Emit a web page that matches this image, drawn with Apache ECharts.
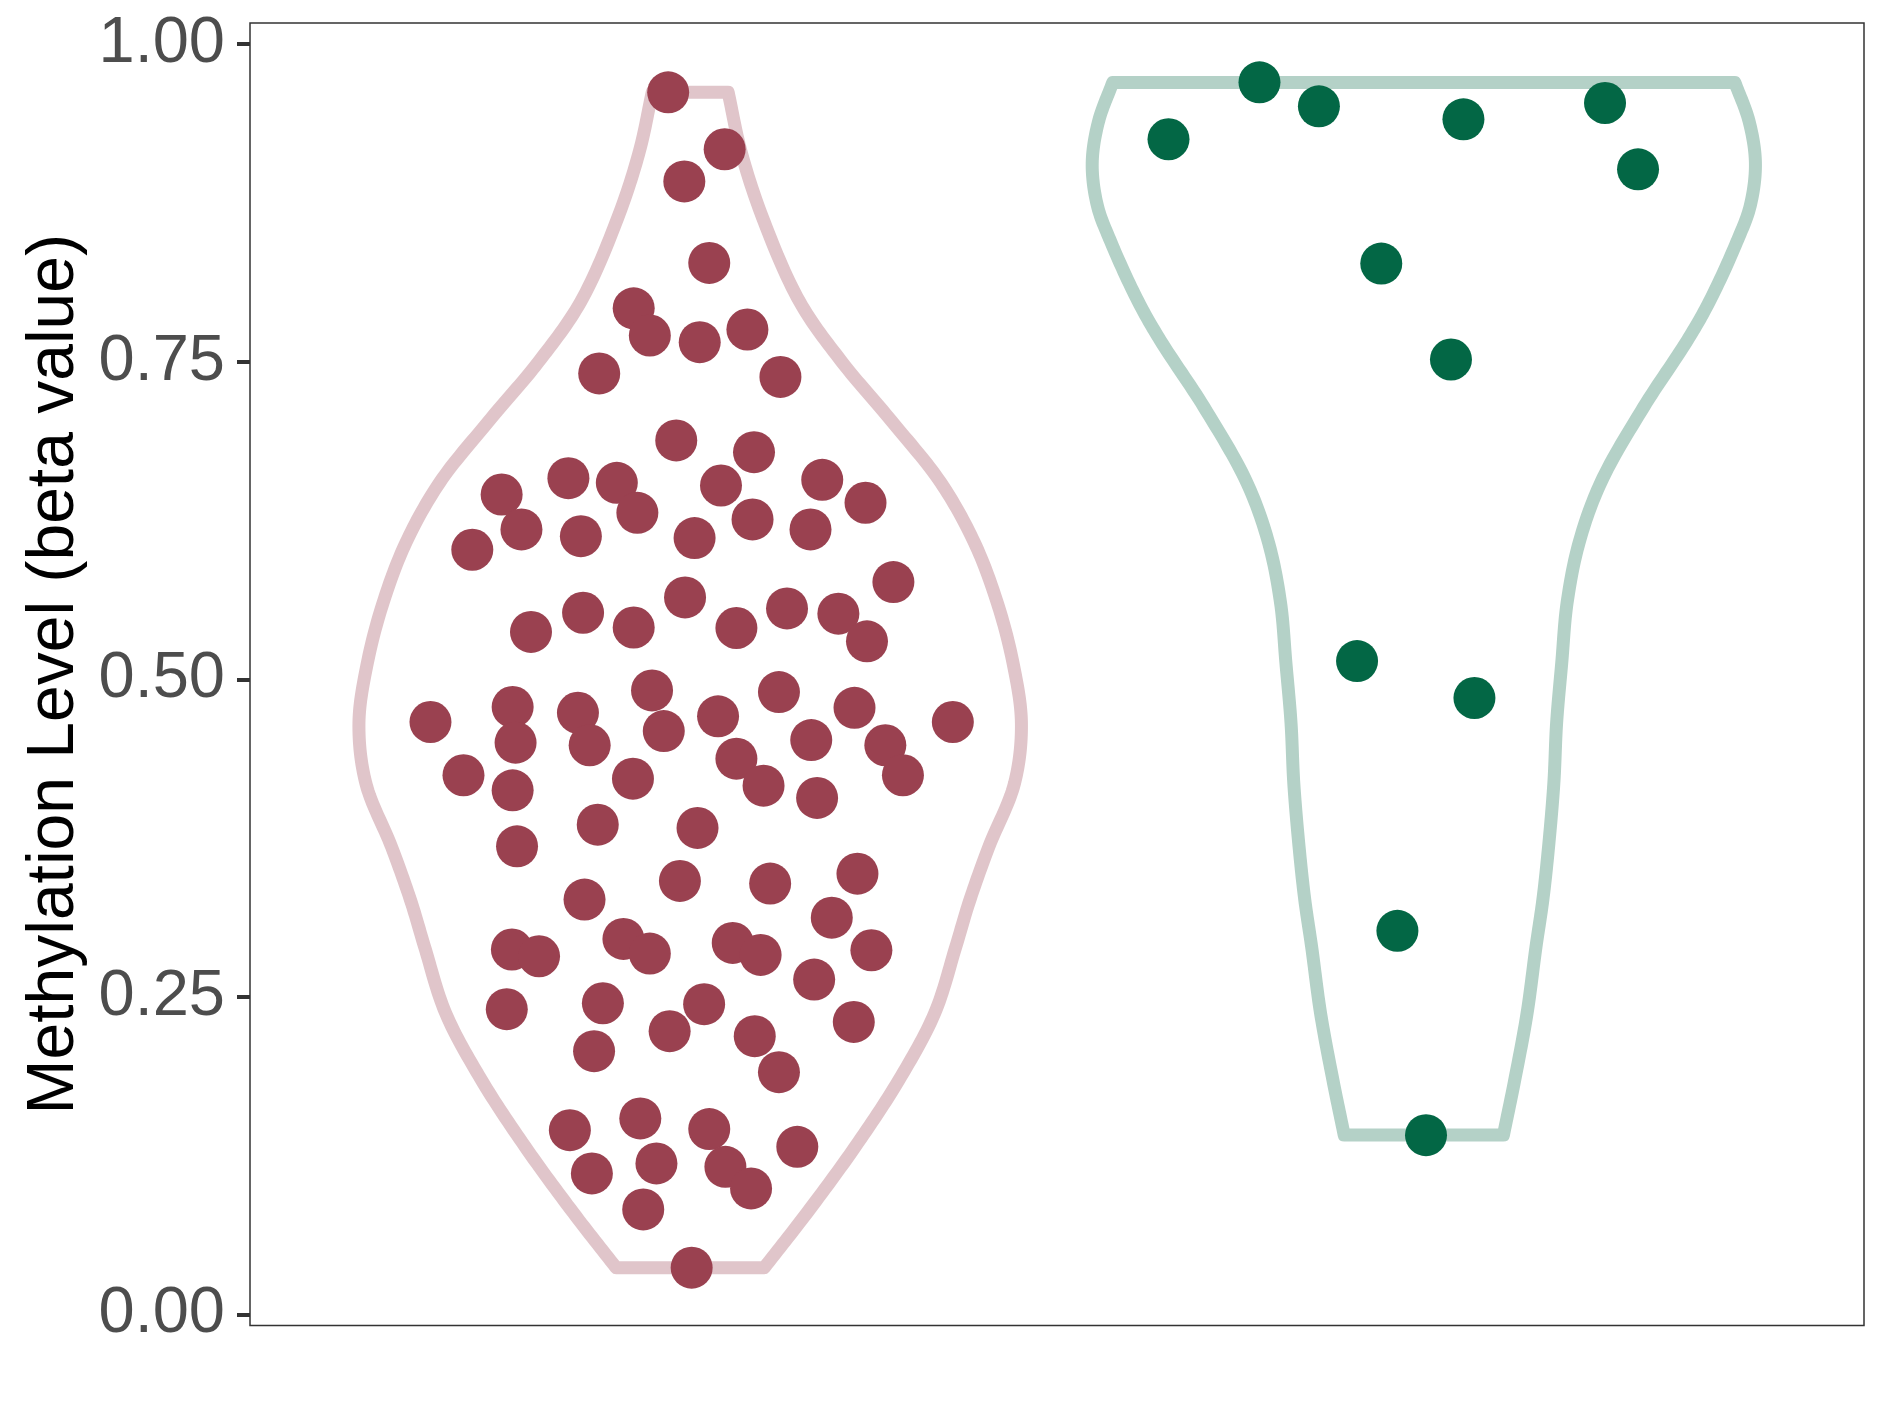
<!DOCTYPE html>
<html><head><meta charset="utf-8">
<script src="https://cdn.jsdelivr.net/npm/echarts@6/dist/echarts.min.js"></script>
<style>html,body{margin:0;padding:0;background:#fff}#chart{width:1889px;height:1417px}</style>
</head><body><div id="chart"></div>
<script>
// ---- data ----
const categories = ['Group 1', 'Group 2'];
const groupCenters = [1, 2];
const yTicks = [0, 0.25, 0.5, 0.75, 1];
const yTitle = 'Methylation Level (beta value)';

// group 1 jittered points
const g1X = [0.970,1.047,0.992,1.026,0.923,0.945,1.013,1.078,0.876,1.123,
  0.981,1.087,0.834,0.900,0.743,1.042,1.180,0.928,0.770,0.851,
  1.085,1.164,1.239,0.703,1.006,1.277,0.993,0.854,1.132,1.202,
  0.783,0.923,1.063,1.241,0.948,1.121,0.646,0.758,0.847,1.038,
  1.224,1.358,0.762,0.863,0.964,1.165,1.266,0.691,0.922,1.063,
  1.100,1.290,0.758,1.173,0.874,1.010,0.764,1.228,0.986,1.109,
  0.856,1.193,0.909,1.058,0.757,0.794,0.945,1.096,1.247,1.169,
  0.750,0.881,1.019,1.223,0.972,1.088,0.869,1.121,0.836,0.932,
  1.026,1.146,0.866,0.954,1.048,1.083,0.936,1.002];
const g1Y = [0.9621,0.9173,0.8920,0.8278,0.7921,0.7707,0.7654,0.7754,0.7408,0.7381,
  0.6881,0.6788,0.6584,0.6547,0.6455,0.6526,0.6571,0.6311,0.6180,0.6127,
  0.6259,0.6180,0.6390,0.6020,0.6112,0.5766,0.5645,0.5524,0.5558,0.5517,
  0.5373,0.5408,0.5404,0.5299,0.4913,0.4900,0.4664,0.4782,0.4737,0.4709,
  0.4776,0.4664,0.4501,0.4481,0.4593,0.4522,0.4481,0.4245,0.4218,0.4375,
  0.4163,0.4245,0.4126,0.4066,0.3856,0.3830,0.3685,0.3470,0.3413,0.3392,
  0.3266,0.3124,0.2956,0.2925,0.2873,0.2820,0.2841,0.2830,0.2867,0.2636,
  0.2403,0.2450,0.2443,0.2303,0.2230,0.2191,0.2073,0.1907,0.1451,0.1543,
  0.1459,0.1320,0.1110,0.1189,0.1162,0.0992,0.0827,0.0368];

// group 2 jittered points
const g2X = [1.652,1.776,1.857,2.054,2.247,2.292,1.942,2.037,1.909,2.069,1.964,2.003];
const g2Y = [0.9252,0.9700,0.9511,0.9409,0.9537,0.9015,0.8273,0.7518,0.5144,0.4853,0.3020,0.1411];

// violin outlines: y level and half width (x-axis units)
const v1Y  = [0.9621,0.9162,0.8637,0.7972,0.7499,0.7025,0.6550,0.6077,0.5603,0.5130,0.4655,
  0.4180,0.3680,0.3250,0.2894,0.2372,0.1845,0.1320,0.0799,0.0368];
const v1HW = [0.0518,0.0690,0.0985,0.1493,0.2068,0.2757,0.3414,0.3874,0.4186,0.4400,0.4515,
  0.4420,0.4070,0.3805,0.3620,0.3333,0.2844,0.2249,0.1591,0.1009];
const v2Y  = [0.9699,0.9394,0.9063,0.8730,0.8446,0.7972,0.7667,0.7142,0.6550,0.6077,0.5603,
  0.5130,0.4655,0.4179,0.3655,0.3262,0.2894,0.2370,0.1845,0.1412];
const v2HW = [0.4240,0.4433,0.4520,0.4450,0.4268,0.3891,0.3590,0.2995,0.2413,0.2117,0.1953,
  0.1880,0.1810,0.1772,0.1696,0.1622,0.1529,0.1407,0.1239,0.1085];

// ---- styles ----
const pointColors = ['#9A4150', '#036745'];
const violinColors = ['#E0C5CA', '#B4D1C7'];

// centripetal Catmull-Rom through pixel points (rendering only)
function spline(P, segs) {
  const n = P.length;
  if (n < 3) return P.slice();
  const ext = [
    [2 * P[0][0] - P[1][0], 2 * P[0][1] - P[1][1]],
    ...P,
    [2 * P[n - 1][0] - P[n - 2][0], 2 * P[n - 1][1] - P[n - 2][1]]
  ];
  const out = [];
  const d = (a, b) => Math.max(1e-6, Math.pow(Math.hypot(b[0] - a[0], b[1] - a[1]), 0.5));
  const lerp = (a, b, ta, tb, t) => [
    (tb - t) / (tb - ta) * a[0] + (t - ta) / (tb - ta) * b[0],
    (tb - t) / (tb - ta) * a[1] + (t - ta) / (tb - ta) * b[1]
  ];
  for (let i = 1; i < ext.length - 2; i++) {
    const p0 = ext[i - 1], p1 = ext[i], p2 = ext[i + 1], p3 = ext[i + 2];
    const t0 = 0, t1 = t0 + d(p0, p1), t2 = t1 + d(p1, p2), t3 = t2 + d(p2, p3);
    for (let k = 0; k < segs; k++) {
      const t = t1 + (t2 - t1) * k / segs;
      const A1 = lerp(p0, p1, t0, t1, t), A2 = lerp(p1, p2, t1, t2, t), A3 = lerp(p2, p3, t2, t3, t);
      const B1 = lerp(A1, A2, t0, t2, t), B2 = lerp(A2, A3, t1, t3, t);
      out.push(lerp(B1, B2, t1, t2, t));
    }
  }
  out.push(P[n - 1]);
  return out;
}

function violinSeries(center, ys, hws, color) {
  return {
    type: 'custom', coordinateSystem: 'cartesian2d', silent: true, animation: false, z: 1,
    data: [[center, ys[0]]],
    renderItem: function (params, api) {
      const left = ys.map((y, i) => api.coord([center - hws[i], y]));
      const right = ys.map((y, i) => api.coord([center + hws[i], y]));
      const L = spline(left, 16);
      const R = spline(right, 16).reverse();
      return {
        type: 'polygon',
        shape: { points: L.concat(R) },
        style: { fill: 'none', stroke: color, lineWidth: 13, lineJoin: 'round', lineCap: 'round' }
      };
    }
  };
}
function pointSeries(xs, ys, color) {
  return {
    type: 'scatter', data: xs.map((x, i) => [x, ys[i]]), symbolSize: 42,
    itemStyle: { color: color, opacity: 1 }, z: 3, silent: true, animation: false
  };
}

const series = [
  violinSeries(groupCenters[0], v1Y, v1HW, violinColors[0]),
  violinSeries(groupCenters[1], v2Y, v2HW, violinColors[1]),
  pointSeries(g1X, g1Y, pointColors[0]),
  pointSeries(g2X, g2Y, pointColors[1])
];

const chart = echarts.init(document.getElementById('chart'), null, { renderer: 'canvas' });
chart.setOption({
  animation: false,
  backgroundColor: '#fff',
  grid: { left: 250, right: 25, top: 23, bottom: 91.5, show: true, borderColor: '#333333', borderWidth: 1.5, backgroundColor: 'transparent' },
  xAxis: {
    type: 'value', min: 0.4, max: 2.6,
    axisLine: { show: false }, axisTick: { show: false }, axisLabel: { show: false }, splitLine: { show: false }
  },
  yAxis: {
    type: 'value', min: -0.0087, max: 1.0167,
    name: yTitle, nameLocation: 'middle', nameGap: 162,
    nameTextStyle: { fontSize: 66, color: '#000000', fontFamily: 'Liberation Sans' },
    axisLine: { show: false },
    splitLine: { show: false },
    axisTick: { show: true, customValues: yTicks, length: 13, lineStyle: { color: '#333333', width: 4 } },
    axisLabel: {
      customValues: yTicks, margin: 25, fontSize: 65, color: '#4D4D4D', fontFamily: 'Liberation Sans',
      padding: [15, 0, 0, 0],
      formatter: v => Number(v).toFixed(2)
    }
  },
  series: series
});
</script></body></html>
